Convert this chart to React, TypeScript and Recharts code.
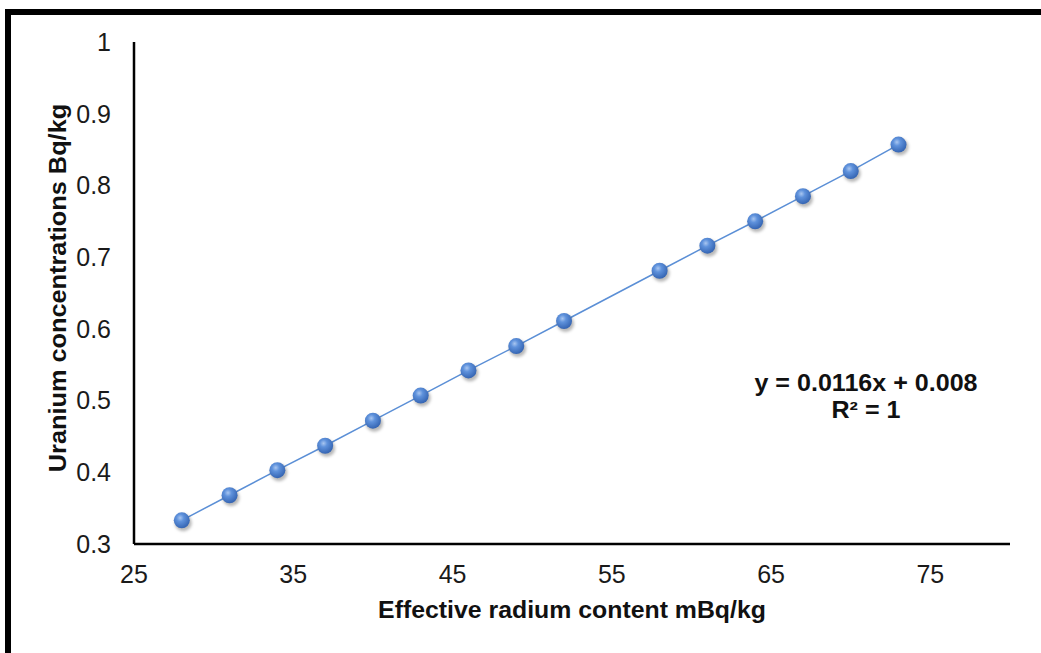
import React from "react";
import { Scatter, ScatterChart, XAxis, YAxis } from "recharts";

// effective radium content (mBq/kg) vs uranium concentration (Bq/kg)
const RADIUM = [28, 31, 34, 37, 40, 43, 46, 49, 52, 58, 61, 64, 67, 70, 73];
const URANIUM = [
  0.333, 0.368, 0.403, 0.437, 0.472, 0.507, 0.542, 0.576, 0.611, 0.681, 0.716, 0.75, 0.785,
  0.82, 0.857,
];
const X_TICKS = [25, 35, 45, 55, 65, 75];
const Y_TICKS = [0.3, 0.4, 0.5, 0.6, 0.7, 0.8, 0.9, 1];

const FONT = "'Liberation Sans', Arial, sans-serif";

const rows = RADIUM.map((x, i) => ({ x, y: URANIUM[i] }));

function Ball(props: any) {
  const { cx, cy } = props;
  if (cx == null || cy == null) return null;
  return (
    <g>
      <circle cx={cx + 1.5} cy={cy + 2.5} r={8.5} fill="rgba(0,0,0,0.28)" filter="url(#ballShadow)" />
      <circle cx={cx} cy={cy} r={8} fill="url(#ballFill)" />
    </g>
  );
}

const titleStyle: React.CSSProperties = {
  position: "absolute",
  whiteSpace: "nowrap",
  fontWeight: "bold",
  fontSize: 23,
  color: "#111",
};

export default function App() {
  return (
    <div
      style={{
        position: "absolute",
        left: 0,
        top: 0,
        width: 1041,
        height: 653,
        background: "#fff",
        overflow: "hidden",
        fontFamily: FONT,
      }}
    >
      <svg width={0} height={0} style={{ position: "absolute" }}>
        <defs>
          <radialGradient id="ballFill" cx="40%" cy="35%" r="65%">
            <stop offset="0%" stopColor="#a9c6f0" />
            <stop offset="35%" stopColor="#5f92dc" />
            <stop offset="100%" stopColor="#3565b3" />
          </radialGradient>
          <filter id="ballShadow" x="-50%" y="-50%" width="200%" height="200%">
            <feGaussianBlur stdDeviation="1.8" />
          </filter>
        </defs>
      </svg>

      {/* frame clipped on right and bottom */}
      <div
        style={{
          position: "absolute",
          left: 5,
          top: 9,
          width: 1100,
          height: 700,
          borderLeft: "6px solid #000",
          borderTop: "6px solid #000",
          boxSizing: "border-box",
        }}
      />

      <div style={{ position: "absolute", left: 0, top: 0 }}>
        <ScatterChart
          width={1041}
          height={653}
          margin={{ top: 42, right: 31, left: 0, bottom: 49 }}
        >
          <XAxis
            type="number"
            dataKey="x"
            domain={[25, 80]}
            ticks={X_TICKS}
            tickLine={false}
            axisLine={{ stroke: "#000", strokeWidth: 2.5 }}
            tick={{ fill: "#1a1a1a", fontSize: 25, fontFamily: FONT }}
            tickMargin={15}
            height={60}
            allowDataOverflow
          />
          <YAxis
            type="number"
            dataKey="y"
            domain={[0.3, 1]}
            ticks={Y_TICKS}
            tickLine={false}
            axisLine={{ stroke: "#000", strokeWidth: 2.5 }}
            tick={{ fill: "#1a1a1a", fontSize: 25, fontFamily: FONT }}
            tickMargin={17}
            width={134}
            allowDataOverflow
          />
          <Scatter
            data={rows}
            line={{ stroke: "#5b8fd6", strokeWidth: 1.5 }}
            lineType="joint"
            shape={<Ball />}
            isAnimationActive={false}
          />
        </ScatterChart>
      </div>

      <div
        style={{
          ...titleStyle,
          left: 58,
          top: 288,
          transform: "translate(-50%, -50%) rotate(-90deg) scaleX(1.1)",
        }}
      >
        Uranium concentrations Bq/kg
      </div>

      <div
        style={{
          ...titleStyle,
          left: 572,
          top: 610,
          transform: "translate(-50%, -50%) scaleX(1.08)",
        }}
      >
        Effective radium content mBq/kg
      </div>

      <div
        style={{
          ...titleStyle,
          left: 866,
          top: 397,
          transform: "translate(-50%, -50%) scaleX(1.09)",
          lineHeight: "27px",
          textAlign: "center",
        }}
      >
        y = 0.0116x + 0.008
        <br />
        R² = 1
      </div>
    </div>
  );
}
